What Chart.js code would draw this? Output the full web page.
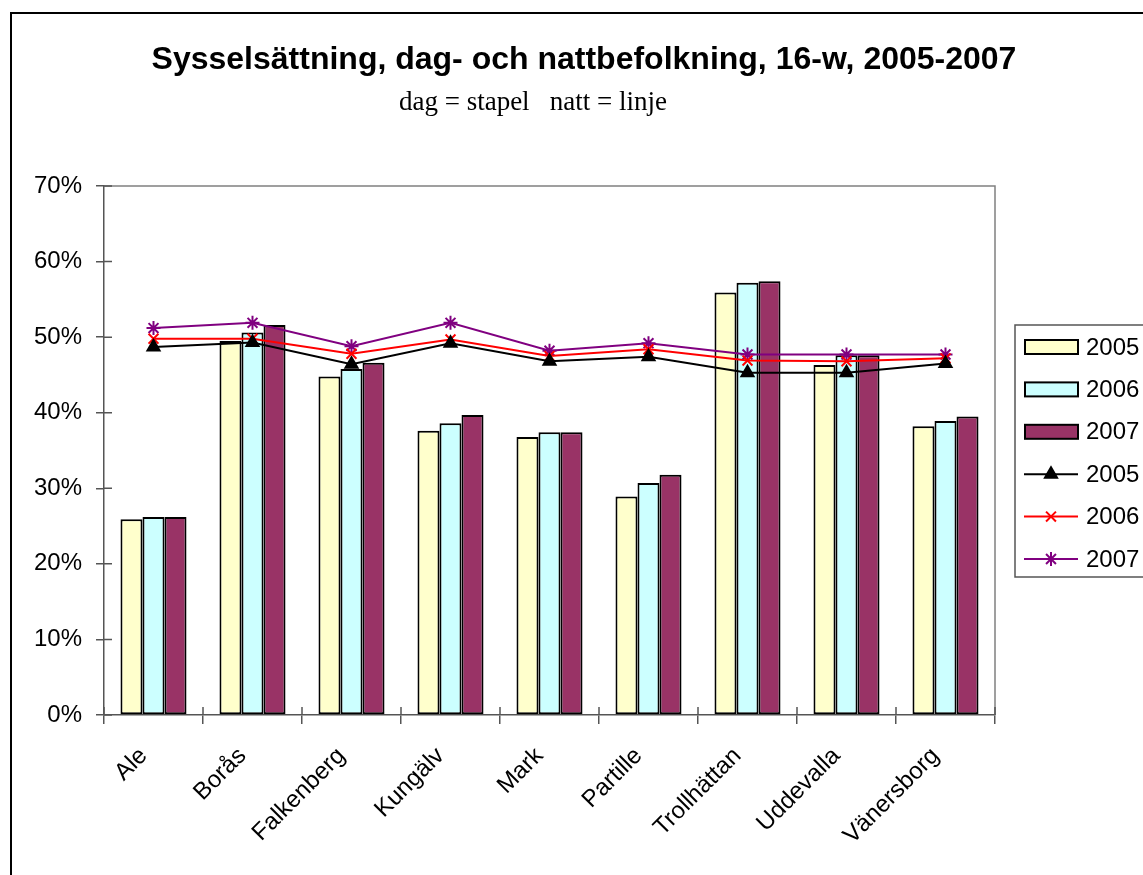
<!DOCTYPE html>
<html>
<head>
<meta charset="utf-8">
<script src="https://cdn.jsdelivr.net/npm/chart.js@4"></script>
<style>
  html, body { margin: 0; padding: 0; background: #fff; }
  #wrap { width: 1143px; height: 875px; position: relative; }
</style>
</head>
<body>
<div id="wrap"><canvas id="myChart" width="1143" height="875"></canvas></div>
<script>
'use strict';
const kommuner = ['Ale', 'Borås', 'Falkenberg', 'Kungälv', 'Mark', 'Partille', 'Trollhättan', 'Uddevalla', 'Vänersborg'];
const yTicks = [0, 10, 20, 30, 40, 50, 60, 70];

// dagbefolkning (staplar), procent
const dag2005 = [25.9, 49.5, 44.8, 37.6, 36.8, 28.9, 55.9, 46.3, 38.2];
const dag2006 = [26.2, 50.6, 45.8, 38.6, 37.4, 30.7, 57.2, 47.6, 38.9];
const dag2007 = [26.2, 51.6, 46.6, 39.7, 37.4, 31.8, 57.4, 47.6, 39.5];

// nattbefolkning (linjer), procent
const natt2005 = [48.7, 49.3, 46.4, 49.2, 46.8, 47.4, 45.3, 45.3, 46.5];
const natt2006 = [49.8, 49.8, 47.8, 49.7, 47.5, 48.4, 46.9, 46.8, 47.2];
const natt2007 = [51.2, 51.9, 48.8, 51.9, 48.2, 49.2, 47.7, 47.7, 47.7];

const FONT = 'Liberation Sans, Arial, sans-serif';

const framePlugin = {
    id: 'frame',
    beforeDraw(chart) {
        const ctx = chart.ctx;
        ctx.save();
        ctx.fillStyle = '#fff';
        ctx.fillRect(0, 0, chart.width, chart.height);
        ctx.strokeStyle = '#000';
        ctx.lineWidth = 2;
        ctx.beginPath();
        ctx.moveTo(11, 880);
        ctx.lineTo(11, 13);
        ctx.lineTo(1150, 13);
        ctx.stroke();

        ctx.fillStyle = '#000';
        ctx.textAlign = 'center';
        ctx.textBaseline = 'middle';
        ctx.font = 'bold 32px ' + FONT;
        ctx.fillText('Sysselsättning, dag- och nattbefolkning, 16-w, 2005-2007', 584, 60);
        ctx.font = '27px Liberation Serif, Times New Roman, serif';
        ctx.fillText('dag = stapel   natt = linje', 533, 103);
        ctx.restore();
    },
    afterDraw(chart) {
        const ctx = chart.ctx;
        const a = chart.chartArea;
        ctx.save();
        // plot area border, top and right
        ctx.strokeStyle = '#808080';
        ctx.lineWidth = 1.5;
        ctx.beginPath();
        ctx.moveTo(a.left, a.top);
        ctx.lineTo(a.right, a.top);
        ctx.lineTo(a.right, a.bottom);
        ctx.stroke();

        // inner half of the tick marks (they cross the axes)
        const ys = chart.scales.y;
        const xs = chart.scales.x;
        ctx.strokeStyle = '#555';
        ctx.beginPath();
        yTicks.forEach(v => {
            const y = ys.getPixelForValue(v);
            ctx.moveTo(a.left, y);
            ctx.lineTo(a.left + 8, y);
        });
        for (let i = 0; i <= kommuner.length; i++) {
            const x = i === 0 ? a.left : i === kommuner.length ? a.right
                : (xs.getPixelForValue(i - 1) + xs.getPixelForValue(i)) / 2;
            ctx.moveTo(x, a.bottom);
            ctx.lineTo(x, a.bottom - 8);
        }
        ctx.stroke();

        // legend
        const lx = 1015, ly = 325, lh = 252;
        ctx.strokeStyle = '#555';
        ctx.lineWidth = 1.5;
        ctx.strokeRect(lx, ly, 200, lh);
        ctx.font = '24px ' + FONT;
        ctx.textAlign = 'left';
        ctx.textBaseline = 'middle';
        chart.data.datasets.forEach((ds, i) => {
            const y = 347 + i * 42.4;
            if (ds.type === 'line') {
                ctx.strokeStyle = ds.borderColor;
                ctx.lineWidth = 2;
                ctx.beginPath();
                ctx.moveTo(1024, y);
                ctx.lineTo(1078, y);
                ctx.stroke();
                ctx.fillStyle = ds.pointBackgroundColor;
                ctx.strokeStyle = ds.pointBorderColor;
                ctx.lineWidth = ds.pointBorderWidth;
                Chart.helpers.drawPoint(ctx, {
                    pointStyle: ds.pointStyle,
                    radius: ds.pointRadius,
                    borderWidth: ds.pointBorderWidth
                }, 1051, y);
            } else {
                ctx.fillStyle = ds.backgroundColor;
                ctx.fillRect(1025, y - 7, 53, 14);
                ctx.strokeStyle = '#000';
                ctx.lineWidth = 2;
                ctx.strokeRect(1025, y - 7, 53, 14);
            }
            ctx.fillStyle = '#000';
            ctx.fillText(ds.label, 1086, y + 1);
        });
        ctx.restore();
    }
};

function barSet(label, data, color) {
    return {
        type: 'bar',
        label: label,
        data: data,
        backgroundColor: color,
        borderColor: '#000',
        borderWidth: 2,
        borderSkipped: false,
        categoryPercentage: 0.667,
        barPercentage: 1,
        order: 2
    };
}

function lineSet(label, data, color, style, fill) {
    return {
        type: 'line',
        label: label,
        data: data,
        borderColor: color,
        borderWidth: 2,
        fill: false,
        tension: 0,
        pointStyle: style,
        pointRadius: 7,
        pointBorderWidth: 2,
        pointBackgroundColor: fill,
        pointBorderColor: color,
        order: 1
    };
}

const ctx = document.getElementById('myChart').getContext('2d');
new Chart(ctx, {
    type: 'bar',
    data: {
        labels: kommuner,
        datasets: [
            barSet('2005', dag2005, '#FFFFCC'),
            barSet('2006', dag2006, '#CCFFFF'),
            barSet('2007', dag2007, '#993366'),
            lineSet('2005', natt2005, '#000000', 'triangle', '#000000'),
            lineSet('2006', natt2006, '#FF0000', 'crossRot', '#FF0000'),
            lineSet('2007', natt2007, '#800080', 'star', '#800080')
        ]
    },
    options: {
        responsive: false,
        animation: false,
        layout: { padding: { left: 0, top: 186, right: 148, bottom: 0 } },
        plugins: {
            legend: { display: false },
            tooltip: { enabled: false },
            title: { display: false }
        },
        scales: {
            x: {
                offset: true,
                grid: { display: true, offset: true, drawOnChartArea: false, tickLength: 9, color: '#555', lineWidth: 1.5 },
                border: { color: '#555', width: 1.5 },
                ticks: {
                    color: '#000',
                    font: { family: FONT, size: 24 },
                    minRotation: 45,
                    maxRotation: 45,
                    autoSkip: false,
                    padding: 18,
                    labelOffset: -10
                },
                afterFit(scale) { scale.height = 160; }
            },
            y: {
                min: 0,
                max: 70,
                afterBuildTicks(scale) { scale.ticks = yTicks.map(v => ({ value: v })); },
                grid: { display: true, drawOnChartArea: false, tickLength: 8, color: '#555', lineWidth: 1.5 },
                border: { color: '#555', width: 1.5 },
                ticks: {
                    color: '#000',
                    font: { family: FONT, size: 24 },
                    padding: 14,
                    callback: v => v + '%'
                },
                afterFit(scale) { scale.width = 104; }
            }
        }
    },
    plugins: [framePlugin]
});
</script>
</body>
</html>
